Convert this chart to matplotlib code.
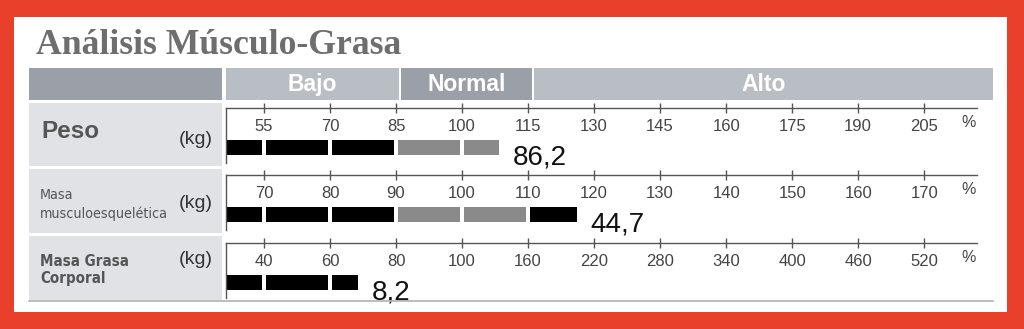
import matplotlib.pyplot as plt
import numpy as np
from matplotlib.patches import Rectangle

# data
row_names = ["Peso", "Masa\nmusculoesquelética", "Masa Grasa\nCorporal"]
row_units = ["(kg)", "(kg)", "(kg)"]
tick_values = [
    [55, 70, 85, 100, 115, 130, 145, 160, 175, 190, 205],
    [70, 80, 90, 100, 110, 120, 130, 140, 150, 160, 170],
    [40, 60, 80, 100, 160, 220, 280, 340, 400, 460, 520],
]
bar_percent = [108.4, 117.4, 68.5]
value_labels = ["86,2", "44,7", "8,2"]
normal_range = [(85, 115), (90, 110), (80, 160)]
header_labels = ["Bajo", "Normal", "Alto"]

W, H = 1024, 329
RED = "#e8402a"
DARK_HDR = "#9ba0a8"
LIGHT_HDR = "#b9bec5"
PANEL = "#e1e2e6"


def fx(x):
    return x / W


def fy(y):
    return 1 - y / H


fig = plt.figure(figsize=(W / 100, H / 100), dpi=100)
fig.patch.set_facecolor(RED)


def box(x0, y0, x1, y1, color):
    fig.patches.append(Rectangle((fx(x0), fy(y1)), fx(x1) - fx(x0), fy(y0) - fy(y1),
                                 transform=fig.transFigure, facecolor=color,
                                 edgecolor="none", zorder=-5))


# white card
box(14, 17, 1007, 312, "white")

fig.text(fx(36), fy(54), "Análisis Músculo-Grasa", family="Liberation Serif",
         weight="bold", size=25.7, color="#6e6e6e", va="baseline", ha="left")

# header strip
box(29, 68, 222, 100, DARK_HDR)
hdr_spans = [(226, 399, LIGHT_HDR), (401, 532, DARK_HDR), (534, 993, LIGHT_HDR)]
for (x0, x1, c), lab in zip(hdr_spans, header_labels):
    box(x0, 68, x1, 100, c)
    fig.text(fx((x0 + x1) / 2), fy(84.5), lab, family="Liberation Sans", weight="bold",
             size=16.5, color="white", ha="center", va="center")

# row label panels
panels = [(103, 166), (169, 233), (236, 300)]
for (y0, y1) in panels:
    box(29, y0, 222, y1, PANEL)
fig.lines.append(plt.Line2D([fx(29), fx(993)], [fy(300.5), fy(300.5)],
                            transform=fig.transFigure, color="#b0b0b0", lw=1.2))

# row titles
fig.text(fx(41), fy(138), row_names[0], family="Liberation Sans", weight="bold",
         size=17.5, color="#555555", va="baseline")
fig.text(fx(40), fy(218), row_names[1], family="DejaVu Sans", stretch="condensed",
         size=10.3, color="#555555", va="baseline", linespacing=1.4)
fig.text(fx(40), fy(283), row_names[2], family="DejaVu Sans", stretch="condensed",
         weight="bold", size=10.8, color="#555555", va="baseline", linespacing=1.2)
unit_y = [140, 203, 260]
for u, yy in zip(row_units, unit_y):
    fig.text(fx(179), fy(yy), u, family="Liberation Sans", size=14, color="#333333",
             va="center", ha="left")

# scale axes
axes_y = [(108, 163), (175, 230), (243, 298)]
slots = np.arange(1, 12)
x_left, x_right = 0.424, 11.8
half_gap = 0.03

for i, (y0, y1) in enumerate(axes_y):
    ax = fig.add_axes([fx(226), fy(y1), fx(977) - fx(226), fy(y0) - fy(y1)])
    ax.set_xlim(x_left, x_right)
    ax.set_ylim(0, 1)
    ax.patch.set_alpha(0)
    for s in ["right", "bottom"]:
        ax.spines[s].set_visible(False)
    for s in ["top", "left"]:
        ax.spines[s].set_color("#555555")
        ax.spines[s].set_linewidth(1.0)
    ax.set_yticks([])
    ax.xaxis.set_ticks_position("top")
    ax.set_xticks(slots, [str(v) for v in tick_values[i]])
    ax.tick_params(axis="x", direction="inout", length=7, width=1, color="#555555",
                   labelcolor="#444444", labelsize=12, pad=-22.5)
    for lab in ax.get_xticklabels():
        lab.set_family("Liberation Sans")
    ax.text(11.67, 1 - 15 / 55, "%", family="Liberation Sans", size=11.5,
            color="#444444", ha="center", va="center")

    # bar split into segments at each tick
    end = np.interp(bar_percent[i], tick_values[i], slots)
    lo, hi = normal_range[i]
    edges = [x_left] + [s for s in slots if s < end] + [end]
    for a, b in zip(edges[:-1], edges[1:]):
        a2 = a + half_gap if a > x_left else a
        b2 = b - half_gap if b < end else b
        mid_val = np.interp((a + b) / 2, slots, tick_values[i])
        color = "#8a8a8a" if lo <= mid_val <= hi else "black"
        ax.barh(0.285, b2 - a2, left=a2, height=0.28, color=color, linewidth=0)
    ax.annotate(value_labels[i], (end, 0.285), xytext=(10, -12.5),
                textcoords="offset points", family="Liberation Sans", size=20,
                color="#111111", ha="left", va="baseline", annotation_clip=False)

fig.savefig("out.png", dpi=100, facecolor=fig.get_facecolor())
